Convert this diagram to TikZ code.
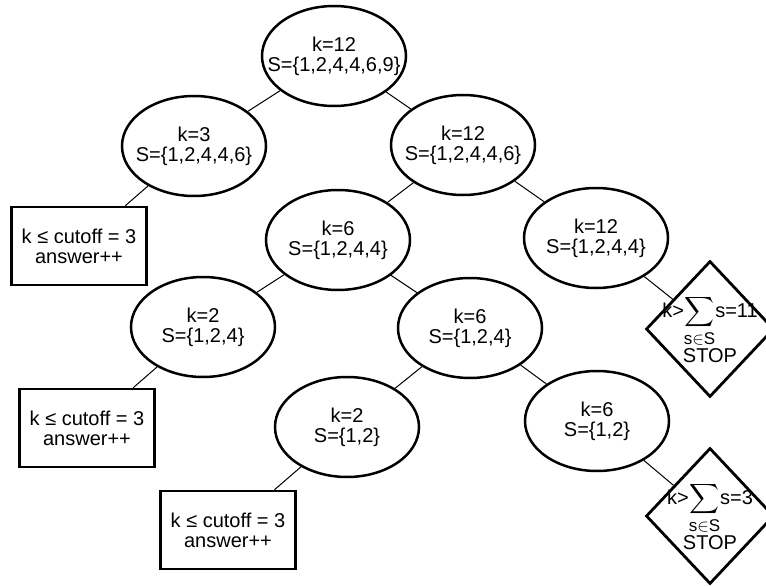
\documentclass[tikz,border=0pt]{standalone}
\usepackage{amsmath}
\usepackage{fontspec}
\setmainfont{Liberation Sans}
\usetikzlibrary{shapes.geometric}

\newcommand{\sumS}{$\displaystyle\sum_{\mbox{\fontsize{17}{17}\selectfont s$\in$S}}$}

\begin{document}
\begin{tikzpicture}[x=1pt,y=-1pt,line width=1pt,
    every node/.style={font=\fontsize{20}{20}\selectfont,align=center},
    subset/.style={ellipse,draw,line width=2.5pt,minimum width=144pt,minimum height=100pt,inner xsep=-30pt,inner ysep=-10pt},
    cutbox/.style={rectangle,draw,line width=2.5pt,minimum width=135pt,minimum height=78pt},
    stopbox/.style={diamond,draw,line width=2.8pt,minimum width=128pt,minimum height=136pt,inner sep=-25pt}]
    \useasboundingbox (0,0) rectangle (766,586);

    \node[subset] (root) at (334,56)  {k=12\\S=\{1,2,4,4,6,9\}};
    \node[subset] (k3)   at (194,146) {k=3\\S=\{1,2,4,4,6\}};
    \node[subset] (k12a) at (463,145) {k=12\\S=\{1,2,4,4,6\}};
    \node[subset] (k6a)  at (338,240) {k=6\\S=\{1,2,4,4\}};
    \node[subset] (k12b) at (596,238) {k=12\\S=\{1,2,4,4\}};
    \node[subset] (k2a)  at (203,327) {k=2\\S=\{1,2,4\}};
    \node[subset] (k6b)  at (470,328) {k=6\\S=\{1,2,4\}};
    \node[subset] (k2b)  at (347,427) {k=2\\S=\{1,2\}};
    \node[subset] (k6c)  at (597,421) {k=6\\S=\{1,2\}};

    \node[cutbox] (cut1) at (79,246)  {k ≤ cutoff = 3\\answer++};
    \node[cutbox] (cut2) at (87,428)  {k ≤ cutoff = 3\\answer++};
    \node[cutbox] (cut3) at (228,530) {k ≤ cutoff = 3\\answer++};

    \node[stopbox] (stop1) at (710,329) {k>\sumS s=11\\STOP};
    \node[stopbox] (stop2) at (710,516) {k>\sumS s=3\\STOP};

    \path
    (root) edge (k3)
    (root) edge (k12a)
    (k3) edge (cut1)

    (k12a) edge (k6a)
    (k12a) edge (k12b)
    (k12b) edge (stop1)

    (k6a) edge (k2a)
    (k6a) edge (k6b)
    (k2a) edge (cut2)

    (k6b) edge (k2b)
    (k6b) edge (k6c)
    (k2b) edge (cut3)
    (k6c) edge (stop2)
    ;
\end{tikzpicture}
\end{document}
